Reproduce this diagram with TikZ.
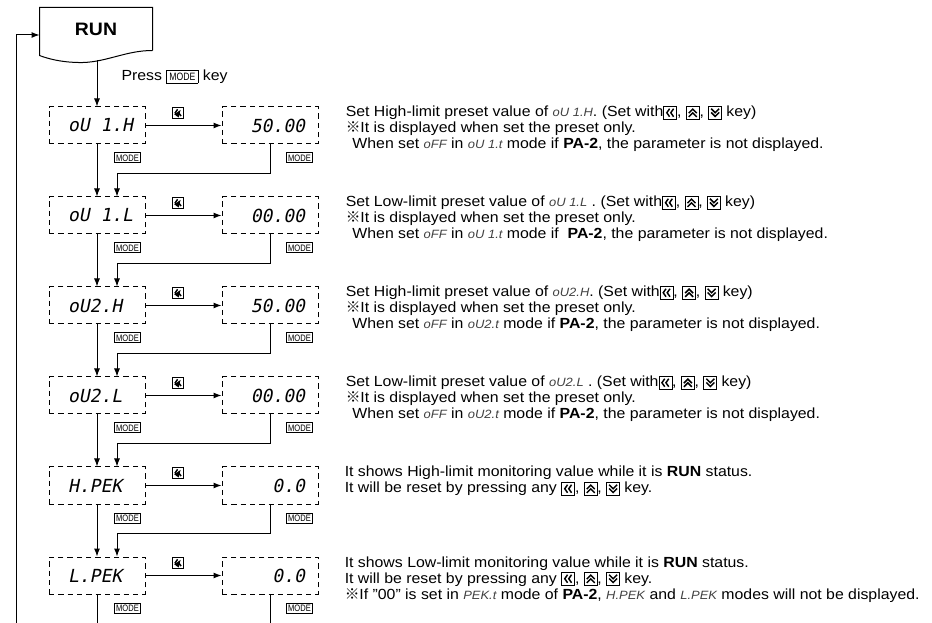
\documentclass[tikz,border=0pt]{standalone}
\usepackage{fontspec}
\setmainfont{Liberation Sans}[FakeStretch=1.08]
\newfontfamily\segfont{DejaVu Sans Mono}[FakeSlant=0.2]
\newfontfamily\cjk{Noto Sans CJK JP}
\usepackage{graphicx}
\usepackage{tikz}
\usetikzlibrary{arrows.meta,positioning,calc}

% front panel keys
\newcommand{\keyL}[1][]{\tikz[baseline=1.7pt,x=1pt,y=1pt,line width=0.5pt,#1]{\draw (0,0) rectangle (9.75,9.75);
  \draw[line width=1.1pt] (4.4,1.9) -- (2.3,4.9) -- (4.4,7.9) (7.4,1.9) -- (5.3,4.9) -- (7.4,7.9);}}
\newcommand{\keyU}{\tikz[baseline=1.7pt,x=1pt,y=1pt,line width=0.5pt]{\draw (0,0) rectangle (9.75,9.75);
  \draw[line width=1.1pt] (1.9,4.6) -- (4.9,7.6) -- (7.9,4.6) (1.9,1.8) -- (4.9,4.8) -- (7.9,1.8);}}
\newcommand{\keyD}{\tikz[baseline=1.7pt,x=1pt,y=1pt,line width=0.5pt]{\draw (0,0) rectangle (9.75,9.75);
  \draw[line width=1.1pt] (1.9,5.1) -- (4.9,2.1) -- (7.9,5.1) (1.9,7.9) -- (4.9,4.9) -- (7.9,7.9);}}
\newcommand{\modetxt}{\scalebox{0.75}[1]{MODE}}
\newcommand{\modebox}{{\setlength{\fboxsep}{1.8pt}\setlength{\fboxrule}{0.5pt}\fbox{\fontsize{8}{8}\selectfont\modetxt}}}
\newcommand{\seg}[1]{{\itshape\color{black!75}\fontsize{9}{10}\selectfont #1}}
\newcommand{\refmark}{{\cjk ※}}

\tikzset{
  flow/.style={-{Latex[length=6pt,width=4.5pt]}},
  disp/.style={draw, dash pattern=on 4pt off 3pt, minimum width=72pt, minimum height=27.75pt,
    inner sep=0pt, font=\segfont\fontsize{13.5}{14}\selectfont},
  modekey/.style={draw, line width=0.5pt, inner xsep=1pt, inner ysep=0pt, minimum height=7.5pt,
    font=\fontsize{7}{7}\selectfont},
  note/.style={anchor=base west, align=left, inner sep=0pt, font=\fontsize{11}{12}\selectfont},
}

\begin{document}
\begin{tikzpicture}[x=0.75pt,y=-0.75pt,line width=0.75pt]
\useasboundingbox (0,0) rectangle (932,623);

% RUN
\node[font=\bfseries\fontsize{13.5}{14}\selectfont, minimum width=84pt, minimum height=31.5pt, inner sep=0pt] (run) at (96,29) {RUN};
\draw (run.south east) -- (run.north east) -- (run.north west) -- ($(run.south west)+(0,5)$)
  .. controls ($(run.south west)+(8,8)$) and ($(run.south west)+(20,11.5)$) .. ($(run.south west)+(38,12)$)
  .. controls ($(run.south west)+(65,13)$) and ($(run.south west)+(85,0)$) .. (run.south east);

% displays
\node[disp] (l1) at (97,125.5) {\makebox[43.5pt][l]{oU 1.H}};
\node[disp, below=39pt of l1] (l2) {\makebox[43.5pt][l]{oU 1.L}};
\node[disp, below=39pt of l2] (l3) {\makebox[43.5pt][l]{oU2.H}};
\node[disp, below=39pt of l3] (l4) {\makebox[43.5pt][l]{oU2.L}};
\node[disp, below=39pt of l4] (l5) {\makebox[43.5pt][l]{H.PEK}};
\node[disp, below=39pt of l5] (l6) {\makebox[43.5pt][l]{L.PEK}};
\node[disp, right=57pt of l1] (r1) {\makebox[52.5pt][r]{50.00}};
\node[disp, right=57pt of l2] (r2) {\makebox[52.5pt][r]{00.00}};
\node[disp, right=57pt of l3] (r3) {\makebox[52.5pt][r]{50.00}};
\node[disp, right=57pt of l4] (r4) {\makebox[52.5pt][r]{00.00}};
\node[disp, right=57pt of l5] (r5) {\makebox[52.5pt][r]{0.0}};
\node[disp, right=57pt of l6] (r6) {\makebox[52.5pt][r]{0.0}};

\foreach \i in {1,...,6} {
  \node[modekey, anchor=north east] (ml\i) at ($(l\i.south east)+(-5,8)$) {\modetxt};
  \node[modekey, anchor=north east] (mr\i) at ($(r\i.south east)+(-6,8)$) {\modetxt};
  \draw[flow] (l\i) -- (r\i) node[above=5pt, pos=0.43, inner sep=0pt] {\keyL[scale=0.85]};
}

% connectors
\coordinate (runout) at ($(l1.north)+(0,-46)$);
\draw[flow] (runout) -- (l1.north);
\node[anchor=west, inner sep=0pt, font=\fontsize{11}{12}\selectfont] (press) at ($(l1.north)+(24,-30)$) {Press \modebox\ key};
\foreach \i [evaluate=\i as \j using int(\i+1)] in {1,...,5} {
  \draw[flow] (l\i.south) -- (l\j.north);
  \draw[flow] (r\i.south) -- ++(0,29) -| ($(l\j.north)+(20,0)$);
}
\coordinate (loopbot) at ($(l6.south)+(0,32)$);
\coordinate (loopcorner) at ($(loopbot)+(-81,0)$);
\draw[flow] (l6.south) -- (loopbot) -- (loopcorner) |- ([yshift=-4.5pt]run.west);
\draw[flow] (r6.south) |- (loopbot);

% descriptions (base = last line)
\node[note] (note1) at ($(r1.east)+(27,23.5)$) {Set High-limit preset value of \seg{oU 1.H}. (Set with\keyL, \keyU, \keyD\ key)\\
  \refmark It is displayed when set the preset only.\\
  \hspace*{5pt}When set \seg{oFF} in \seg{oU 1.t} mode if \textbf{PA-2}, the parameter is not displayed.};
\node[note] (note2) at ($(r2.east)+(27,23.5)$) {Set Low-limit preset value of \seg{oU 1.L} . (Set with\keyL, \keyU, \keyD\ key)\\
  \refmark It is displayed when set the preset only.\\
  \hspace*{5pt}When set \seg{oFF} in \seg{oU 1.t} mode if~ \textbf{PA-2}, the parameter is not displayed.};
\node[note] (note3) at ($(r3.east)+(27,23.5)$) {Set High-limit preset value of \seg{oU2.H}. (Set with\keyL, \keyU, \keyD\ key)\\
  \refmark It is displayed when set the preset only.\\
  \hspace*{5pt}When set \seg{oFF} in \seg{oU2.t} mode if \textbf{PA-2}, the parameter is not displayed.};
\node[note] (note4) at ($(r4.east)+(27,23.5)$) {Set Low-limit preset value of \seg{oU2.L} . (Set with\keyL, \keyU, \keyD\ key)\\
  \refmark It is displayed when set the preset only.\\
  \hspace*{5pt}When set \seg{oFF} in \seg{oU2.t} mode if \textbf{PA-2}, the parameter is not displayed.};
\node[note] (note5) at ($(r5.east)+(26,7.5)$) {It shows High-limit monitoring value while it is \textbf{RUN} status.\\
  It will be reset by pressing any \keyL, \keyU, \keyD\ key.};
\node[note] (note6) at ($(r6.east)+(26,23.5)$) {It shows Low-limit monitoring value while it is \textbf{RUN} status.\\
  It will be reset by pressing any \keyL, \keyU, \keyD\ key.\\
  \refmark If "00" is set in \seg{PEK.t} mode of \textbf{PA-2}, \seg{H.PEK} and \seg{L.PEK} modes will not be displayed.};
\end{tikzpicture}
\end{document}
